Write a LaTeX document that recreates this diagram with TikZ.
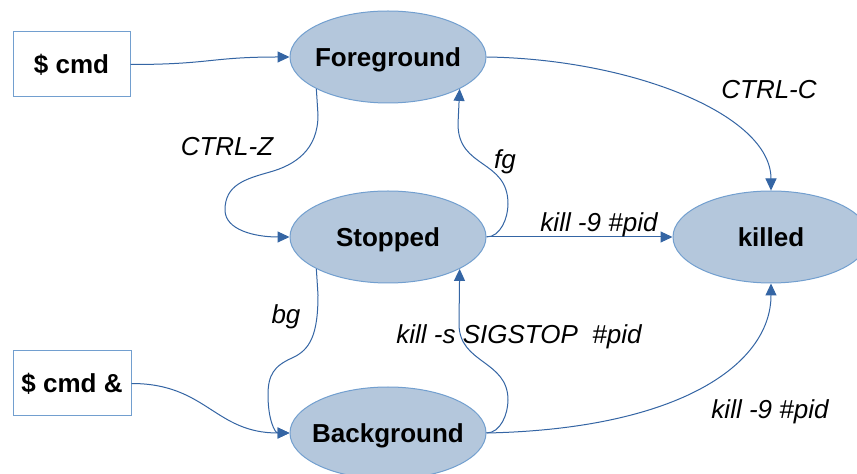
\documentclass[tikz,border=0pt]{standalone}
\usepackage{fontspec}
\setmainfont{Liberation Sans}
\usetikzlibrary{shapes.geometric,arrows.meta}
\definecolor{efill}{RGB}{180,199,220}
\definecolor{eline}{RGB}{114,159,207}
\definecolor{cline}{RGB}{52,101,164}
\begin{document}
\begin{tikzpicture}[x=1pt,y=1pt,
  state/.style={ellipse,draw=eline,line width=1pt,fill=efill,minimum width=196pt,minimum height=92pt,inner xsep=-25pt,inner ysep=0pt,text height=19pt,text depth=0pt,font=\fontsize{26}{30}\selectfont\bfseries},
  cmdbox/.style={rectangle,draw=eline,line width=1pt,fill=white,minimum height=65pt,inner sep=0pt,text height=19pt,text depth=0pt,font=\fontsize{26}{30}\selectfont\bfseries},
  conn/.style={draw=cline,line width=1pt,-{Triangle[length=12pt,width=11pt]}},
  lbl/.style={font=\fontsize{26}{30}\selectfont\itshape,inner sep=0pt}]
\useasboundingbox (0,0) rectangle (857,474);
\clip (0,0) rectangle (857,474);
\fill[white] (0,0) rectangle (857,474);
% nodes
\node[state] (fg) at (388,417) {Foreground};
\node[state] (st) at (388,237) {Stopped};
\node[state] (kl) at (771,237) {killed};
\node[state] (bg) at (388,41) {Background};
\node[cmdbox,minimum width=117pt] (cmd) at (71.5,409.5) {\$ cmd};
\node[cmdbox,minimum width=118pt] (cmda) at (72,90.5) {\$ cmd \&};
% connectors
\draw[conn] (cmd.east) .. controls +(80,0) and +(-80,0) .. (fg.west);
\draw[conn] (cmda.east) .. controls +(75,0) and +(-75,0) .. (bg.west);
\draw[conn] (fg.204) -- (318,359) .. controls (318,324) and (295,309) .. (270,302) .. controls (245,295) and (225,289) .. (225,264) .. controls (225,244) and (255,237) .. (st.west);
\draw[conn] (st.east) .. controls +(14,0) and +(0,-14) .. (508,270) .. controls (508,315) and (458,305) .. (458,350) -- (fg.336);
\draw[conn] (bg.east) .. controls +(14,0) and +(0,-14) .. (508,74) .. controls (508,114) and (459,110) .. (459,150) -- (st.336);
\draw[conn] (st.204) -- (318,179) .. controls (318,139) and (310,124) .. (292,116) .. controls (274,108) and (268,99) .. (268,79) .. controls (268,54) and (275,41) .. (bg.west);
\draw[conn] (fg.east) .. controls (630,415) and (771,360) .. (kl.north);
\draw[conn] (st.east) -- (kl.west);
\draw[conn] (bg.east) .. controls (680,45) and (771,110) .. (kl.south);
% labels
\node[lbl] (lz) at (227,327) {CTRL-Z};
\node[lbl] (lf) at (505,312) {fg};
\node[lbl] (lk1) at (599,249) {kill -9 \#pid};
\node[lbl] (lc) at (769,384) {CTRL-C};
\node[lbl] (lb) at (286,157) {bg};
\node[lbl] (ls) at (519,137) {kill -s SIGSTOP\ \ \#pid};
\node[lbl] (lk2) at (770,62) {kill -9 \#pid};
\end{tikzpicture}
\end{document}
